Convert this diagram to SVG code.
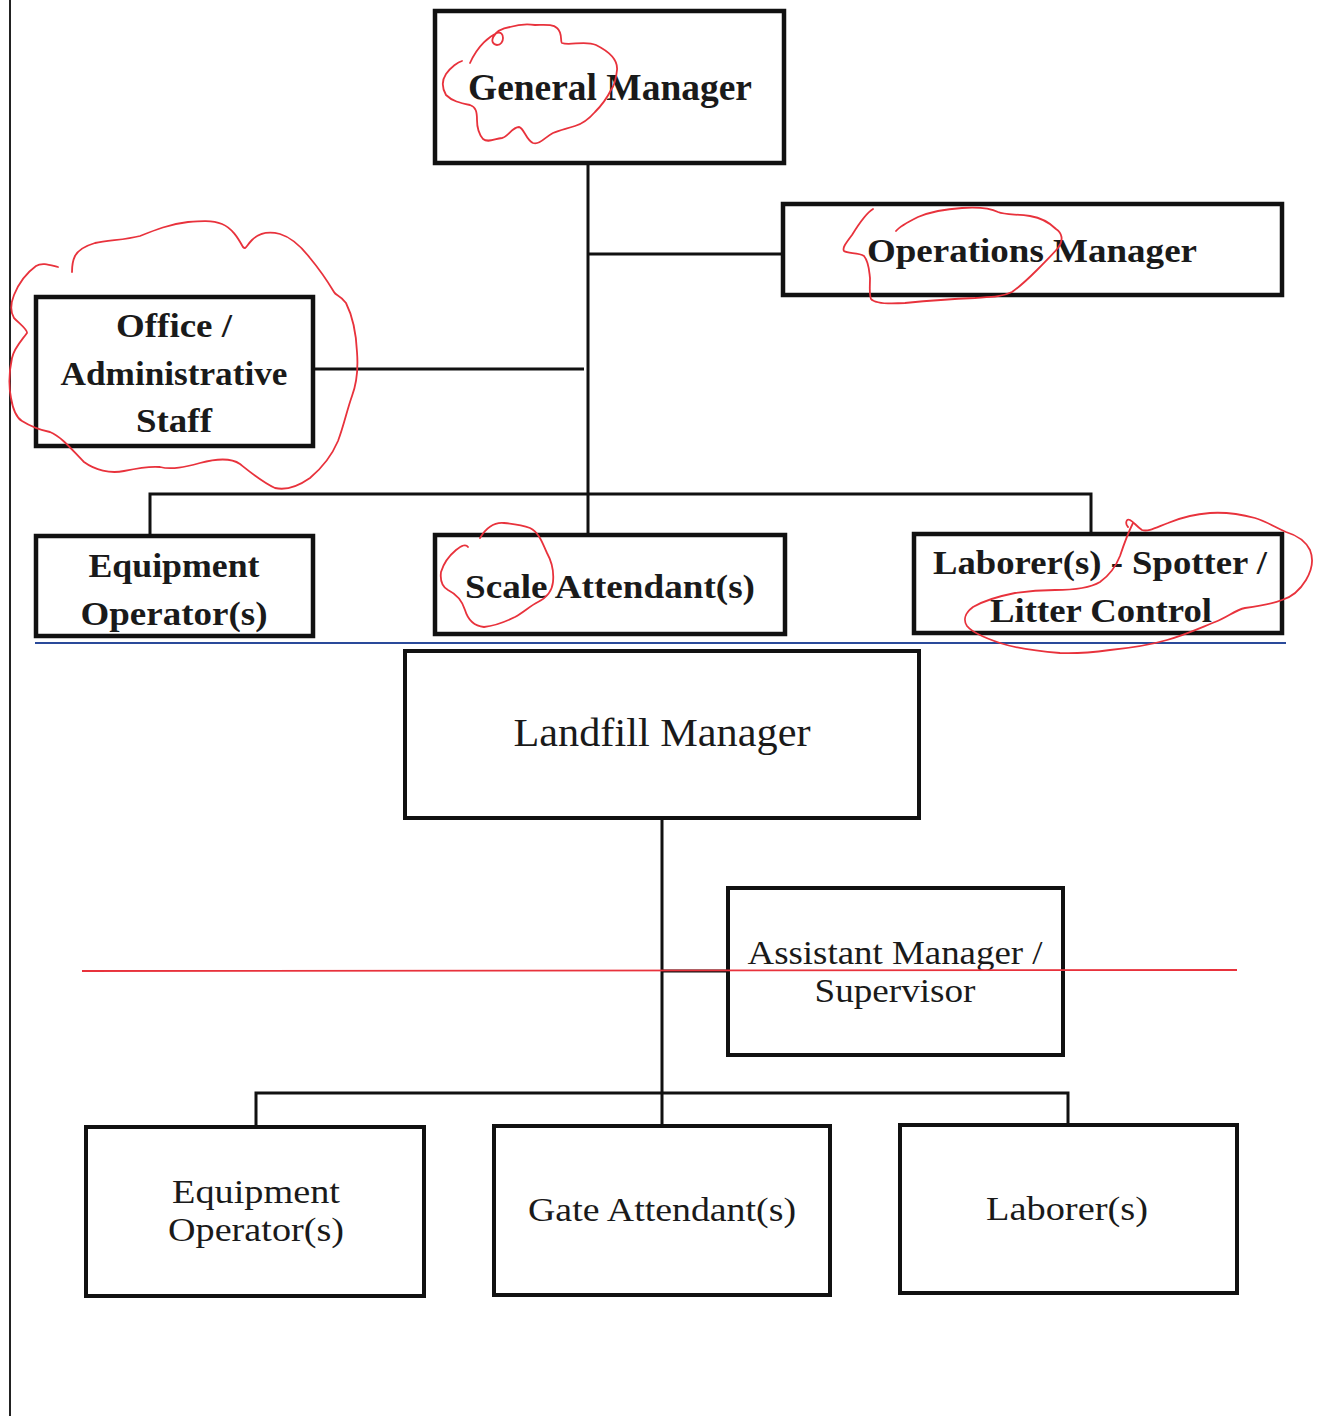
<svg xmlns="http://www.w3.org/2000/svg" width="1318" height="1416" viewBox="0 0 1318 1416">
<style>
.box{fill:#fff;stroke:#111;stroke-width:4.5}
.bx2{fill:#fff;stroke:#111;stroke-width:4}
.b{font-family:"Liberation Serif","Times New Roman",serif;font-weight:bold;fill:#1a1a1a;text-anchor:middle}
.r{font-family:"Liberation Serif","Times New Roman",serif;fill:#1a1a1a;text-anchor:middle}
.con{stroke:#111;stroke-width:3;fill:none}
.red{fill:none;stroke:#e8323c;stroke-width:1.8;stroke-linejoin:round;stroke-linecap:round}
</style>
<rect width="1318" height="1416" fill="#fff"/>
<line x1="10" y1="0" x2="10" y2="1416" stroke="#222" stroke-width="2"/>
<g id="connectors">
<path class="con" d="M588 163V535M588 254H783M313 369H584M150 536V494H1091V534"/>
<path class="con" d="M662 818V1126M662 971H728M256 1127V1093H1068V1125" stroke-width="4"/>
</g>
<line x1="35" y1="643" x2="1286" y2="643" stroke="#2a4a9a" stroke-width="2"/>
<g id="n-gm"><rect class="box" x="435" y="11" width="349" height="152"/>
<text class="b" x="610" y="100" font-size="38" textLength="284" lengthAdjust="spacingAndGlyphs">General Manager</text></g>
<g id="n-ops"><rect class="box" x="783" y="204" width="499" height="91"/>
<text class="b" x="1032" y="262" font-size="34" textLength="330" lengthAdjust="spacingAndGlyphs">Operations Manager</text></g>
<g id="n-office"><rect class="box" x="36" y="297" width="277" height="149"/>
<text class="b" x="174" y="337" font-size="34" textLength="116" lengthAdjust="spacingAndGlyphs">Office /</text>
<text class="b" x="174" y="385" font-size="34" textLength="227" lengthAdjust="spacingAndGlyphs">Administrative</text>
<text class="b" x="174" y="432" font-size="34" textLength="76" lengthAdjust="spacingAndGlyphs">Staff</text></g>
<g id="n-eq1"><rect class="box" x="36" y="536" width="277" height="100"/>
<text class="b" x="174" y="577" font-size="34" textLength="171" lengthAdjust="spacingAndGlyphs">Equipment</text>
<text class="b" x="174" y="625" font-size="34" textLength="187" lengthAdjust="spacingAndGlyphs">Operator(s)</text></g>
<g id="n-scale"><rect class="box" x="435" y="535" width="350" height="99"/>
<text class="b" x="610" y="598" font-size="34" textLength="290" lengthAdjust="spacingAndGlyphs">Scale Attendant(s)</text></g>
<g id="n-lab1"><rect class="box" x="914" y="534" width="368" height="99"/>
<text class="b" x="1100" y="574" font-size="34" textLength="334" lengthAdjust="spacingAndGlyphs">Laborer(s) - Spotter /</text>
<text class="b" x="1101" y="622" font-size="34" textLength="222" lengthAdjust="spacingAndGlyphs">Litter Control</text></g>
<g id="n-lfm"><rect class="bx2" x="405" y="651" width="514" height="167"/>
<text class="r" x="662" y="746" font-size="40" textLength="297" lengthAdjust="spacingAndGlyphs">Landfill  Manager</text></g>
<g id="n-asst"><rect class="bx2" x="728" y="888" width="335" height="167"/>
<text class="r" x="895" y="964" font-size="34" textLength="295" lengthAdjust="spacingAndGlyphs">Assistant Manager /</text>
<text class="r" x="895" y="1002" font-size="34" textLength="161" lengthAdjust="spacingAndGlyphs">Supervisor</text></g>
<g id="n-eq2"><rect class="bx2" x="86" y="1127" width="338" height="169"/>
<text class="r" x="256" y="1203" font-size="34" textLength="168" lengthAdjust="spacingAndGlyphs">Equipment</text>
<text class="r" x="256" y="1241" font-size="34" textLength="176" lengthAdjust="spacingAndGlyphs">Operator(s)</text></g>
<g id="n-gate"><rect class="bx2" x="494" y="1126" width="336" height="169"/>
<text class="r" x="662" y="1221" font-size="34" textLength="268" lengthAdjust="spacingAndGlyphs">Gate Attendant(s)</text></g>
<g id="n-lab2"><rect class="bx2" x="900" y="1125" width="337" height="168"/>
<text class="r" x="1067" y="1220" font-size="34" textLength="162" lengthAdjust="spacingAndGlyphs">Laborer(s)</text></g>
<line x1="82" y1="971" x2="1237" y2="970" stroke="#e8323c" stroke-width="1.8"/>
<g id="annotations">
<path class="red" d="M470 63C478 45 490 36 497 33C505 30 505 45 497 45C488 44 492 30 510 27C520 24 528 24 535 25C545 25 553 24 557 28C563 33 560 42 562 43C570 46 585 40 596 45C610 52 618 60 617 70C616 80 614 86 611 90C606 100 600 107 595 112C588 120 582 124 575 126C566 129 560 130 553 133C545 137 540 145 533 143C526 140 524 128 519 127C512 127 508 137 502 138C494 139 488 143 483 139C478 133 477 127 477 120C477 112 476 107 470 105C460 103 452 101 446 95C442 88 442 80 446 74C451 67 458 62 462 61"/>
<path class="red" d="M58 267C50 265 42 262 36 266C25 274 18 285 14 295C10 305 11 313 14 318C20 324 28 330 27 333C22 340 14 348 12 358C9 372 9 388 11 398C13 410 17 418 22 421C30 426 40 430 50 432C62 437 72 450 84 462C95 470 110 474 124 471C138 468 150 466 160 467C172 470 185 467 200 463C215 459 230 457 240 464C250 472 262 482 275 488C288 491 300 485 310 478C322 468 332 455 338 441C344 425 347 410 352 396C358 380 358 365 357 352C356 330 352 315 346 303C340 295 336 296 334 292C328 282 320 270 310 258C300 245 290 237 280 234C268 231 258 234 252 240C246 246 246 250 243 247C238 238 232 228 222 224C212 220 200 221 188 222C170 224 155 230 140 236C125 240 108 240 95 243C85 246 78 250 75 256C72 262 72 268 72 272"/>
<path class="red" d="M873 209C868 212 860 222 852 235C846 243 842 248 844 251C848 254 858 252 864 256C869 262 869 270 870 278C870 287 869 294 871 299C875 304 890 304 905 303C925 301 950 299 975 298C990 297 1002 297 1012 292C1022 285 1030 277 1037 270C1045 262 1052 255 1058 248C1064 240 1062 233 1056 229C1050 223 1042 218 1030 216C1015 214 1005 215 998 212C990 208 978 207 962 208C945 209 930 212 918 217C908 222 900 226 896 231"/>
<path class="red" d="M480 538C486 528 494 522 504 523C514 524 522 525 530 528C540 533 543 545 547 553C552 562 554 572 553 582C552 592 546 598 538 602C530 606 524 612 515 617C505 622 494 626 484 627C474 626 468 620 465 610C462 600 456 594 448 590C441 586 440 580 441 572C444 562 450 555 456 550C462 545 466 544 468 547"/>
<path class="red" d="M1133 523C1128 533 1124 544 1120 556C1116 566 1110 575 1100 582C1090 588 1075 590 1055 590C1040 590 1028 591 1015 593C1000 596 985 600 973 607C965 613 963 620 967 626C972 632 985 638 1000 643C1015 648 1035 651 1060 653C1080 654 1095 652 1110 650C1130 648 1150 645 1167 640C1185 635 1200 628 1215 622C1228 617 1235 610 1245 608C1260 606 1272 604 1282 600C1292 597 1300 590 1306 580C1312 570 1314 560 1310 550C1305 540 1296 535 1286 532C1276 528 1268 522 1255 518C1240 514 1225 512 1210 513C1195 514 1180 518 1168 523C1155 528 1148 532 1142 530C1136 526 1134 522 1130 520C1126 518 1125 524 1128 527"/>
</g>
</svg>
